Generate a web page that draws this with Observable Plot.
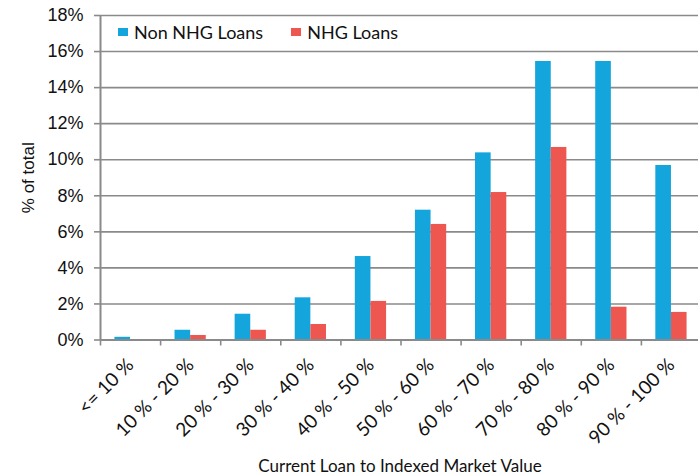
<!DOCTYPE html>
<html>
<head>
<meta charset="utf-8">
<script src="https://cdn.jsdelivr.net/npm/d3@7"></script>
<script src="https://cdn.jsdelivr.net/npm/@observablehq/plot@0.6"></script>
<style>
  html, body { margin: 0; padding: 0; background: #fff; overflow: hidden; }
  #wrap { position: relative; width: 698px; height: 475px; overflow: hidden; }
  #legend { position: absolute; left: 118px; top: 21px; font: 18px Lato, sans-serif; color: #111; display: flex; align-items: center; }
  #legend span.sw { display: inline-block; width: 10px; height: 8px; margin-right: 6px; }
  #legend span.item { display: inline-flex; align-items: center; margin-right: 28px; }
  #xtitle { position: absolute; left: 100px; width: 600px; top: 455px; text-align: center; font: 17px Lato, sans-serif; color: #111; }
</style>
</head>
<body>
<div id="wrap">
  <div id="chart"></div>
  <div id="legend"></div>
  <div id="xtitle"></div>
</div>
<script>
// Share of loans per current LTV bucket (indexed market value)
const categories = ["<= 10 %", "10 % - 20 %", "20 % - 30 %", "30 % - 40 %", "40 % - 50 %",
                    "50 % - 60 %", "60 % - 70 %", "70 % - 80 %", "80 % - 90 %", "90 % - 100 %"];
const nonNhgLoans = [0.15, 0.54, 1.43, 2.34, 4.63, 7.20, 10.38, 15.45, 15.45, 9.68];
const nhgLoans    = [0.00, 0.25, 0.54, 0.86, 2.14, 6.41, 8.18, 10.68, 1.82, 1.53];
const seriesNames = ["Non NHG Loans", "NHG Loans"];
const seriesColors = ["#13a5dc", "#ee5750"];
const yTicks = [0, 2, 4, 6, 8, 10, 12, 14, 16, 18];
const xTitle = "Current Loan to Indexed Market Value";
const yTitle = "% of total";

// Bars sit side by side in the middle of each category slot
const groupStart = 0.24, groupMid = 0.5, groupEnd = 0.76;
const rows = categories.flatMap((c, i) => [
  {cat: c, i, series: seriesNames[0], value: nonNhgLoans[i], x1: i + groupStart, x2: i + groupMid},
  {cat: c, i, series: seriesNames[1], value: nhgLoans[i], x1: i + groupMid, x2: i + groupEnd}
]);

const gray = "#8a8a8a";

const chart = Plot.plot({
  width: 698,
  height: 440,
  marginTop: 15,
  marginBottom: 100.5,
  marginLeft: 100,
  marginRight: 0,
  style: {background: "#fff", overflow: "visible"},
  x: {domain: [0, categories.length], range: [100, 701]},
  y: {domain: [0, 18]},
  color: {domain: seriesNames, range: seriesColors},
  marks: [
    Plot.gridY(yTicks, {stroke: gray, strokeOpacity: 1, strokeWidth: 1.6}),
    Plot.rectY(rows, {x1: "x1", x2: "x2", y: "value", fill: "series", inset: 0}),
    Plot.ruleX([0], {stroke: gray, strokeWidth: 2}),
    Plot.ruleY([0], {stroke: gray, strokeWidth: 2}),
    Plot.axisY(yTicks, {
      tickSize: 6, tickPadding: 11, stroke: gray, strokeWidth: 1.6,
      tickFormat: d => d + "%", label: null,
      fontSize: 18, fontFamily: "Liberation Sans, Arial, sans-serif", fill: "#111"
    }),
    // boundary ticks between categories
    Plot.axisX(d3.range(categories.length + 1), {
      tickSize: 6, stroke: gray, strokeWidth: 1.6, tickFormat: () => "", label: null
    }),
    // category labels, centred on each slot
    Plot.axisX(d3.range(categories.length).map(i => i + 0.5), {
      tickSize: 0, tickPadding: 22, tickRotate: -45,
      tickFormat: d => categories[Math.floor(d)], label: null,
      fontSize: 19, fontFamily: "Lato, sans-serif", fill: "#111"
    }),
    Plot.text([yTitle], {
      frameAnchor: "left", textAnchor: "middle", dx: -72, rotate: -90,
      fontSize: 17, fontFamily: "Liberation Sans, Arial, sans-serif", fill: "#111"
    })
  ]
});
document.getElementById("chart").appendChild(chart);

const legend = document.getElementById("legend");
seriesNames.forEach((name, k) => {
  const item = document.createElement("span");
  item.className = "item";
  const sw = document.createElement("span");
  sw.className = "sw";
  sw.style.background = seriesColors[k];
  item.appendChild(sw);
  item.appendChild(document.createTextNode(name));
  legend.appendChild(item);
});
document.getElementById("xtitle").textContent = xTitle;
</script>
</body>
</html>
